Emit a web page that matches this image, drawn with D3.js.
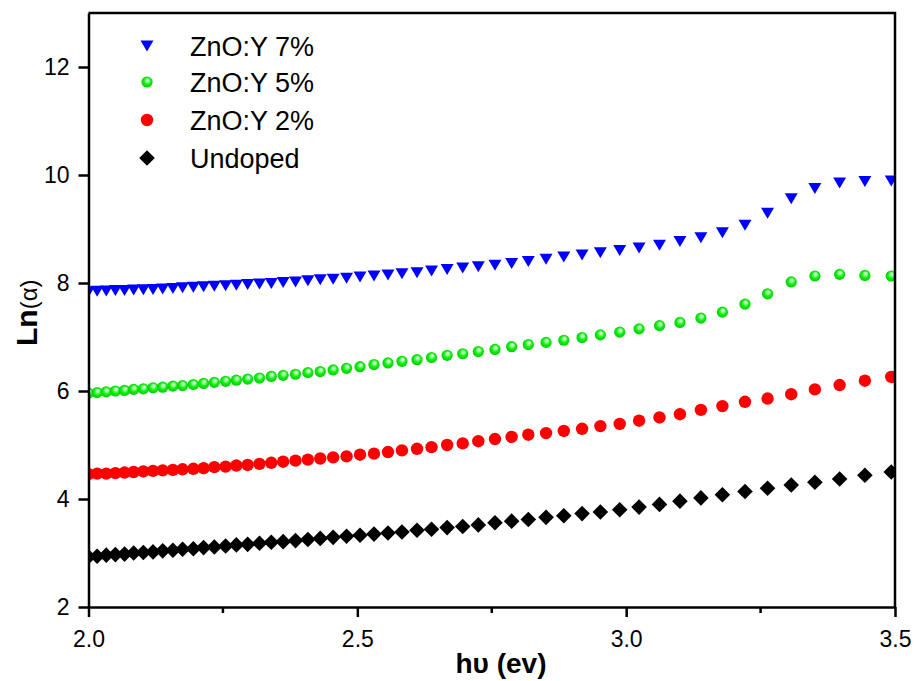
<!DOCTYPE html>
<html>
<head>
<meta charset="utf-8">
<script src="https://cdn.jsdelivr.net/npm/d3@7/dist/d3.min.js"></script>
<style>
  html, body { margin: 0; padding: 0; background: #fff; }
  svg { display: block; }
  text { font-family: "Liberation Sans", Arial, sans-serif; fill: #000; }
</style>
</head>
<body>
<svg id="chart" width="917" height="681"></svg>
<script>
// photon energy hν (eV)
const energy = [2.000,2.016,2.033,2.050,2.067,2.084,2.102,2.120,2.138,2.157,
  2.175,2.195,2.214,2.234,2.255,2.275,2.296,2.318,2.340,2.362,
  2.385,2.408,2.431,2.455,2.480,2.505,2.531,2.557,2.583,2.611,
  2.638,2.667,2.696,2.725,2.756,2.787,2.818,2.851,2.884,2.918,
  2.952,2.988,3.024,3.062,3.100,3.139,3.179,3.221,3.263,3.307,
  3.351,3.397,3.444,3.493];

const y7 = [7.84,7.845,7.85,7.86,7.86,7.87,7.875,7.88,7.89,7.90,
  7.91,7.92,7.93,7.94,7.95,7.96,7.97,7.98,7.99,8.01,
  8.02,8.04,8.06,8.07,8.09,8.11,8.13,8.15,8.17,8.19,
  8.22,8.25,8.28,8.30,8.33,8.36,8.40,8.44,8.48,8.52,
  8.56,8.60,8.65,8.70,8.77,8.84,8.93,9.07,9.29,9.56,
  9.75,9.85,9.88,9.89];

const y5 = [5.96,5.97,5.985,6.00,6.01,6.03,6.04,6.06,6.07,6.09,
  6.10,6.12,6.14,6.16,6.18,6.20,6.22,6.24,6.27,6.29,
  6.31,6.34,6.36,6.39,6.42,6.45,6.49,6.52,6.55,6.58,
  6.62,6.66,6.69,6.73,6.77,6.82,6.86,6.90,6.94,6.99,
  7.04,7.09,7.15,7.21,7.27,7.35,7.46,7.61,7.80,8.02,
  8.13,8.16,8.14,8.13];

const y2 = [4.46,4.47,4.47,4.48,4.49,4.50,4.51,4.52,4.53,4.54,
  4.55,4.56,4.57,4.59,4.60,4.62,4.63,4.65,4.67,4.69,
  4.71,4.73,4.75,4.77,4.79,4.82,4.84,4.87,4.90,4.93,
  4.96,5.00,5.03,5.07,5.11,5.15,5.19,5.22,5.26,5.30,
  5.35,5.39,5.45,5.51,5.57,5.65,5.72,5.80,5.86,5.94,
  6.03,6.11,6.19,6.26];

const y0 = [2.93,2.94,2.96,2.97,2.98,3.00,3.01,3.02,3.04,3.05,
  3.07,3.08,3.10,3.11,3.13,3.15,3.16,3.18,3.20,3.21,
  3.23,3.25,3.27,3.29,3.31,3.33,3.35,3.37,3.39,3.42,
  3.44,3.47,3.49,3.52,3.56,3.59,3.62,3.66,3.69,3.73,
  3.76,3.80,3.85,3.90,3.96,4.02,4.08,4.14,4.20,4.26,
  4.31,4.37,4.44,4.50];

const seriesNames = ["ZnO:Y 7%", "ZnO:Y 5%", "ZnO:Y 2%", "Undoped"];
const xTicks = [2.0, 2.5, 3.0, 3.5];
const xMinorTicks = [2.25, 2.75, 3.25];
const yTicks = [2, 4, 6, 8, 10, 12];

// ---------- layout ----------
const svg = d3.select("#chart");
const L = 88.5, R = 895, T = 13, B = 607;
const x = d3.scaleLinear().domain([2.0, 3.5]).range([L, R]);
const y = d3.scaleLinear().domain([2, 13]).range([B, T]);

const defs = svg.append("defs");
defs.append("clipPath").attr("id", "clip")
  .append("rect").attr("x", L).attr("y", T).attr("width", R - L).attr("height", B - T);
const g5 = defs.append("radialGradient").attr("id", "sphere")
  .attr("cx", "0.5").attr("cy", "0.5").attr("r", "0.55")
  .attr("fx", "0.58").attr("fy", "0.3");
g5.append("stop").attr("offset", "0%").attr("stop-color", "#ffffff");
g5.append("stop").attr("offset", "25%").attr("stop-color", "#9dff9d");
g5.append("stop").attr("offset", "55%").attr("stop-color", "#12f012");
g5.append("stop").attr("offset", "100%").attr("stop-color", "#00c800");

const symbols = {
  tri: "M-6.5,-5.5L6.5,-5.5L0,5.5Z",
  dia: "M0,-7.8L7.8,0L0,7.8L-7.8,0Z"
};

const series = [
  { name: seriesNames[3], vals: y0, type: "dia", fill: "#000000" },
  { name: seriesNames[2], vals: y2, type: "circ", r: 6.2, fill: "#ff0000" },
  { name: seriesNames[1], vals: y5, type: "circ", r: 5.6, fill: "url(#sphere)" },
  { name: seriesNames[0], vals: y7, type: "tri", fill: "#0000ff" }
];

function drawMarker(sel, s) {
  if (s.type === "circ") {
    sel.append("circle").attr("r", s.r).attr("fill", s.fill);
  } else {
    sel.append("path").attr("d", symbols[s.type]).attr("fill", s.fill);
  }
}

const plot = svg.append("g").attr("clip-path", "url(#clip)");
series.forEach(s => {
  const gg = plot.append("g");
  energy.forEach((e, i) => {
    const m = gg.append("g").attr("transform", `translate(${x(e)},${y(s.vals[i])})`);
    drawMarker(m, s);
  });
});

// ---------- axes ----------
const xAxis = d3.axisBottom(x).tickValues(xTicks).tickFormat(d3.format(".1f"))
  .tickSize(10).tickSizeOuter(0).tickPadding(14);
const gx = svg.append("g").attr("transform", `translate(0,${B})`).call(xAxis);
gx.selectAll("text").attr("font-size", 23);
gx.selectAll("line").attr("stroke-width", 2.5);
gx.select(".domain").attr("stroke-width", 2.5);
gx.selectAll(".minor").data(xMinorTicks).enter().append("line")
  .attr("x1", d => x(d)).attr("x2", d => x(d)).attr("y1", 0).attr("y2", 6)
  .attr("stroke", "#000").attr("stroke-width", 2.5);

const yAxis = d3.axisLeft(y).tickValues(yTicks).tickFormat(d3.format("d"))
  .tickSize(10).tickSizeOuter(0).tickPadding(9);
const gy = svg.append("g").attr("transform", `translate(${L},0)`).call(yAxis);
gy.selectAll("text").attr("font-size", 23);
gy.selectAll("line").attr("stroke-width", 2.5);
gy.select(".domain").attr("stroke-width", 2.5);

// frame top / right
svg.append("path")
  .attr("d", `M${L},${T}H${R}V${B}`)
  .attr("fill", "none").attr("stroke", "#000").attr("stroke-width", 2.5);

// axis titles
svg.append("text")
  .attr("x", 501).attr("y", 673).attr("text-anchor", "middle")
  .attr("font-size", 28).attr("font-weight", "bold")
  .text("h\u03c5 (ev)");

const yl = svg.append("text")
  .attr("transform", "translate(37,346) rotate(-90)")
  .attr("text-anchor", "start").attr("font-size", 30).attr("font-weight", "bold");
yl.append("tspan").text("Ln");
yl.append("tspan").attr("font-weight", "normal").attr("font-size", 24).text("(\u03b1)");

// ---------- legend ----------
const legendOrder = [series[3], series[2], series[1], series[0]];
const legendY = [46, 82, 120, 158];
const lg = svg.append("g");
legendOrder.forEach((s, i) => {
  const row = lg.append("g").attr("transform", `translate(147,${legendY[i]})`);
  drawMarker(row, s);
  row.append("text").attr("x", 43).attr("y", 9.5)
    .attr("font-size", 27).text(s.name);
});
</script>
</body>
</html>
